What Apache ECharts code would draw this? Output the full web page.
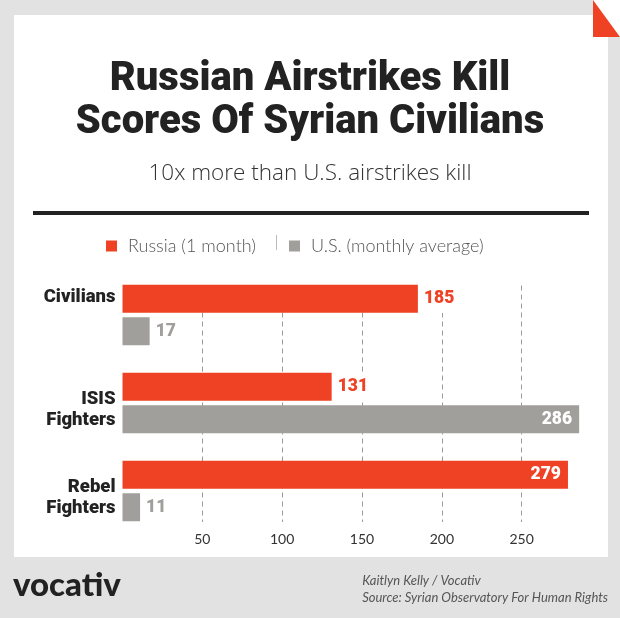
<!DOCTYPE html>
<html>
<head>
<meta charset="utf-8">
<script src="https://cdn.jsdelivr.net/npm/echarts@6/dist/echarts.min.js"></script>
<style>
  html, body { margin: 0; padding: 0; background: #e2e2e2; }
  #chart { width: 620px; height: 618px; }
</style>
</head>
<body>
<div id="chart"></div>
<script>
// ---- data ----
const categories = ['Civilians', 'ISIS\nFighters', 'Rebel\nFighters'];
const seriesNames = ['Russia (1 month)', 'U.S. (monthly average)'];
const russia = [185, 131, 279];
const us = [17, 286, 11];
const axisMax = 300;
const tickStep = 50;

const RED = '#ef4224';
const GRAY = '#a19f9c';
const TITLE_FONT = 'Roboto, "Noto Sans", sans-serif';
const BODY_FONT = 'Lato, "Open Sans", sans-serif';

function items(values, color) {
  return values.map(v => ({
    value: v,
    label: v > 250
      ? { position: 'insideRight', distance: 7, color: '#fff', backgroundColor: 'transparent', padding: 0 }
      : { color: color }
  }));
}

const chart = echarts.init(document.getElementById('chart'), null, { renderer: 'canvas' });

const valueLabel = {
  show: true,
  position: 'right',
  distance: 3,
  fontFamily: TITLE_FONT,
  fontWeight: 900,
  fontSize: 17.5,
  backgroundColor: '#fff',
  padding: [5, 3, 5, 3]
};

const catLabelStyle = { fontFamily: TITLE_FONT, fontWeight: 900, fontSize: 18.5, lineHeight: 21, color: '#222', align: 'right' };

// single-line labels sit level with the first bar, two-line ones slightly below centre
function categoryFormatter(v) {
  const lines = v.split('\n');
  if (lines.length === 1) return '{l|' + lines[0] + '}\n{sb| }';
  return '{st| }\n' + lines.map(s => '{l|' + s + '}').join('\n');
}

chart.setOption({
  backgroundColor: '#e2e2e2',
  animation: false,
  title: [
    {
      text: 'Russian Airstrikes Kill\nScores Of Syrian Civilians',
      left: 'center',
      top: 53,
      textStyle: { fontFamily: TITLE_FONT, fontWeight: 900, fontSize: 40, lineHeight: 43, color: '#222' }
    },
    {
      text: '10x more than U.S. airstrikes kill',
      left: 'center',
      top: 157,
      textStyle: { fontFamily: '"Open Sans", Lato, sans-serif', fontWeight: 300, fontSize: 22.5, color: '#333' }
    }
  ],
  legend: {
    data: seriesNames,
    left: 101,
    top: 232,
    icon: 'rect',
    itemWidth: 11,
    itemHeight: 11,
    itemGap: 33,
    selectedMode: false,
    textStyle: { fontFamily: BODY_FONT, fontWeight: 300, fontSize: 18, color: '#555', padding: [0, 0, 0, 6] }
  },
  grid: [
    { left: 122.5, right: 620 - 122.5 - 479, top: 271, height: 264, containLabel: false },
    { left: 122.5, right: 620 - 122.5 - 479, top: 285.5, height: 236.5, containLabel: false }
  ],
  xAxis: [
    { gridIndex: 0, type: 'value', min: 0, max: axisMax, interval: tickStep, show: false },
    {
      gridIndex: 1, type: 'value', min: 0, max: axisMax, interval: tickStep,
      axisLine: { show: false }, axisTick: { show: false },
      splitLine: { show: true, showMinLine: false, showMaxLine: false, lineStyle: { type: [5, 4], color: '#9a9a9a', width: 1 } },
      axisLabel: {
        margin: 10, fontFamily: BODY_FONT, fontSize: 14, color: '#333',
        formatter: v => (v === 0 || v === axisMax) ? '' : String(v)
      }
    }
  ],
  yAxis: [
    {
      gridIndex: 0, type: 'category', data: categories, inverse: true,
      axisLine: { show: false }, axisTick: { show: false }, splitLine: { show: false },
      axisLabel: Object.assign({
        margin: 7,
        formatter: categoryFormatter,
        rich: {
          l: catLabelStyle,
          sb: { fontSize: 10, height: 36, lineHeight: 36 },
          st: { fontSize: 10, height: 14, lineHeight: 14 }
        }
      }, catLabelStyle)
    },
    { gridIndex: 1, type: 'value', show: false, min: 0, max: 1 }
  ],
  series: [
    {
      name: seriesNames[0], type: 'bar', xAxisIndex: 0, yAxisIndex: 0,
      barWidth: 28, barGap: '16%',
      itemStyle: { color: RED },
      label: valueLabel,
      data: items(russia, RED)
    },
    {
      name: seriesNames[1], type: 'bar', xAxisIndex: 0, yAxisIndex: 0,
      barWidth: 28, barGap: '16%',
      itemStyle: { color: GRAY },
      label: valueLabel,
      data: items(us, GRAY)
    }
  ],
  graphic: [
    { type: 'rect', z: -10, shape: { x: 14, y: 15, width: 594, height: 542 }, style: { fill: '#fff' } },
    { type: 'rect', z: -10, shape: { x: 593, y: 0, width: 27, height: 37 }, style: { fill: '#fff' } },
    { type: 'polygon', z: -9, shape: { points: [[593, 0], [593, 37], [620, 37]] }, style: { fill: RED } },
    { type: 'rect', z: 5, shape: { x: 33, y: 211, width: 556, height: 4 }, style: { fill: '#222' } },
    { type: 'rect', z: 5, shape: { x: 276, y: 235, width: 1, height: 15 }, style: { fill: '#bbb' } },
    {
      type: 'text', z: 5, left: 13, top: 569,
      style: { text: 'vocativ', font: '900 33px Lato, "Noto Sans", sans-serif', fill: '#222' }
    },
    {
      type: 'text', z: 5, right: 12, top: 572,
      style: {
        text: 'Kaitlyn Kelly / Vocativ\nSource: Syrian Observatory For Human Rights',
        font: 'italic 13px Lato, "Open Sans", sans-serif', fill: '#555', align: 'right', lineHeight: 17
      }
    }
  ]
});
</script>
</body>
</html>
